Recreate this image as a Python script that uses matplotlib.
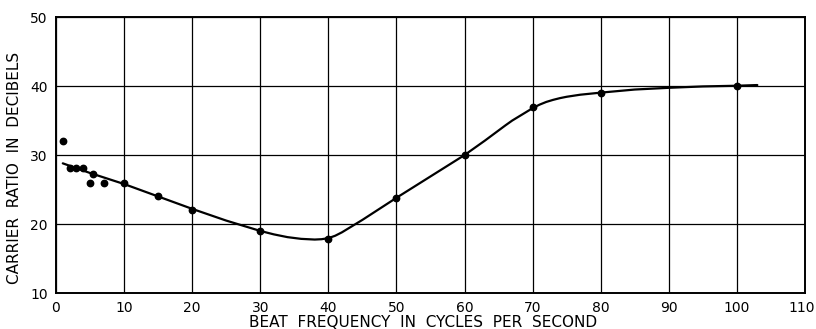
import matplotlib
matplotlib.use("Agg")
import matplotlib.pyplot as plt
from matplotlib.transforms import ScaledTranslation

# measured points
freq_pts = [1, 2, 3, 4, 5, 5.4, 7, 10, 15, 20, 30, 40, 50, 60, 70, 80, 100]
ratio_pts = [32, 28.1, 28.1, 28.1, 26, 27.2, 26, 26, 24, 22, 19, 17.9, 23.8, 30, 37, 39, 40]

# faired curve through the data
curve_f = [1, 5, 10, 15, 20, 25, 28, 30, 32, 34, 36, 38, 39, 40, 41, 42, 43, 44, 45,
           50, 55, 60, 63, 66, 67, 68, 69, 70, 71, 72, 73, 74, 75, 77, 80, 85, 90,
           95, 100, 103]
curve_r = [28.8, 27.4, 25.8, 24.0, 22.2, 20.5, 19.6, 19.0, 18.5, 18.1, 17.85, 17.75,
           17.8, 17.95, 18.3, 18.8, 19.4, 20.0, 20.6, 23.8, 26.9, 30.0, 32.1, 34.3,
           35.0, 35.6, 36.2, 36.8, 37.3, 37.7, 38.0, 38.25, 38.45, 38.75, 39.05, 39.5,
           39.75, 39.95, 40.05, 40.15]

plt.rcParams.update({"font.family": "DejaVu Sans", "font.size": 10})

fig = plt.figure(figsize=(8.16, 3.29), dpi=100)
ax = fig.add_axes([0.0686, 0.1094, 0.9179, 0.8386])

ax.plot(curve_f, curve_r, color="black", lw=1.6, solid_capstyle="round",
        solid_joinstyle="round")
ax.plot(freq_pts, ratio_pts, "o", color="black", ms=4.6)

ax.set_xlim(0, 110)
ax.set_ylim(10, 50)
ax.set_xticks(range(0, 111, 10))
ax.set_yticks(range(10, 51, 10))
ax.grid(color="black", lw=0.9)
ax.set_axisbelow(True)
ax.tick_params(length=0, pad=6, labelsize=10)
for s in ax.spines.values():
    s.set_linewidth(1.4)

# keep the last tick label inside the canvas
last = ax.get_xticklabels()[-1]
last.set_transform(last.get_transform() + ScaledTranslation(-3 / 100, 0, fig.dpi_scale_trans))

ax.set_xlabel("BEAT  FREQUENCY  IN  CYCLES  PER  SECOND", fontsize=11)
ax.set_ylabel("CARRIER  RATIO  IN  DECIBELS", fontsize=11)
ax.xaxis.set_label_coords(0.49, -0.078)
ax.yaxis.set_label_coords(-0.045, 0.455)

fig.savefig("out.png", dpi=100)
